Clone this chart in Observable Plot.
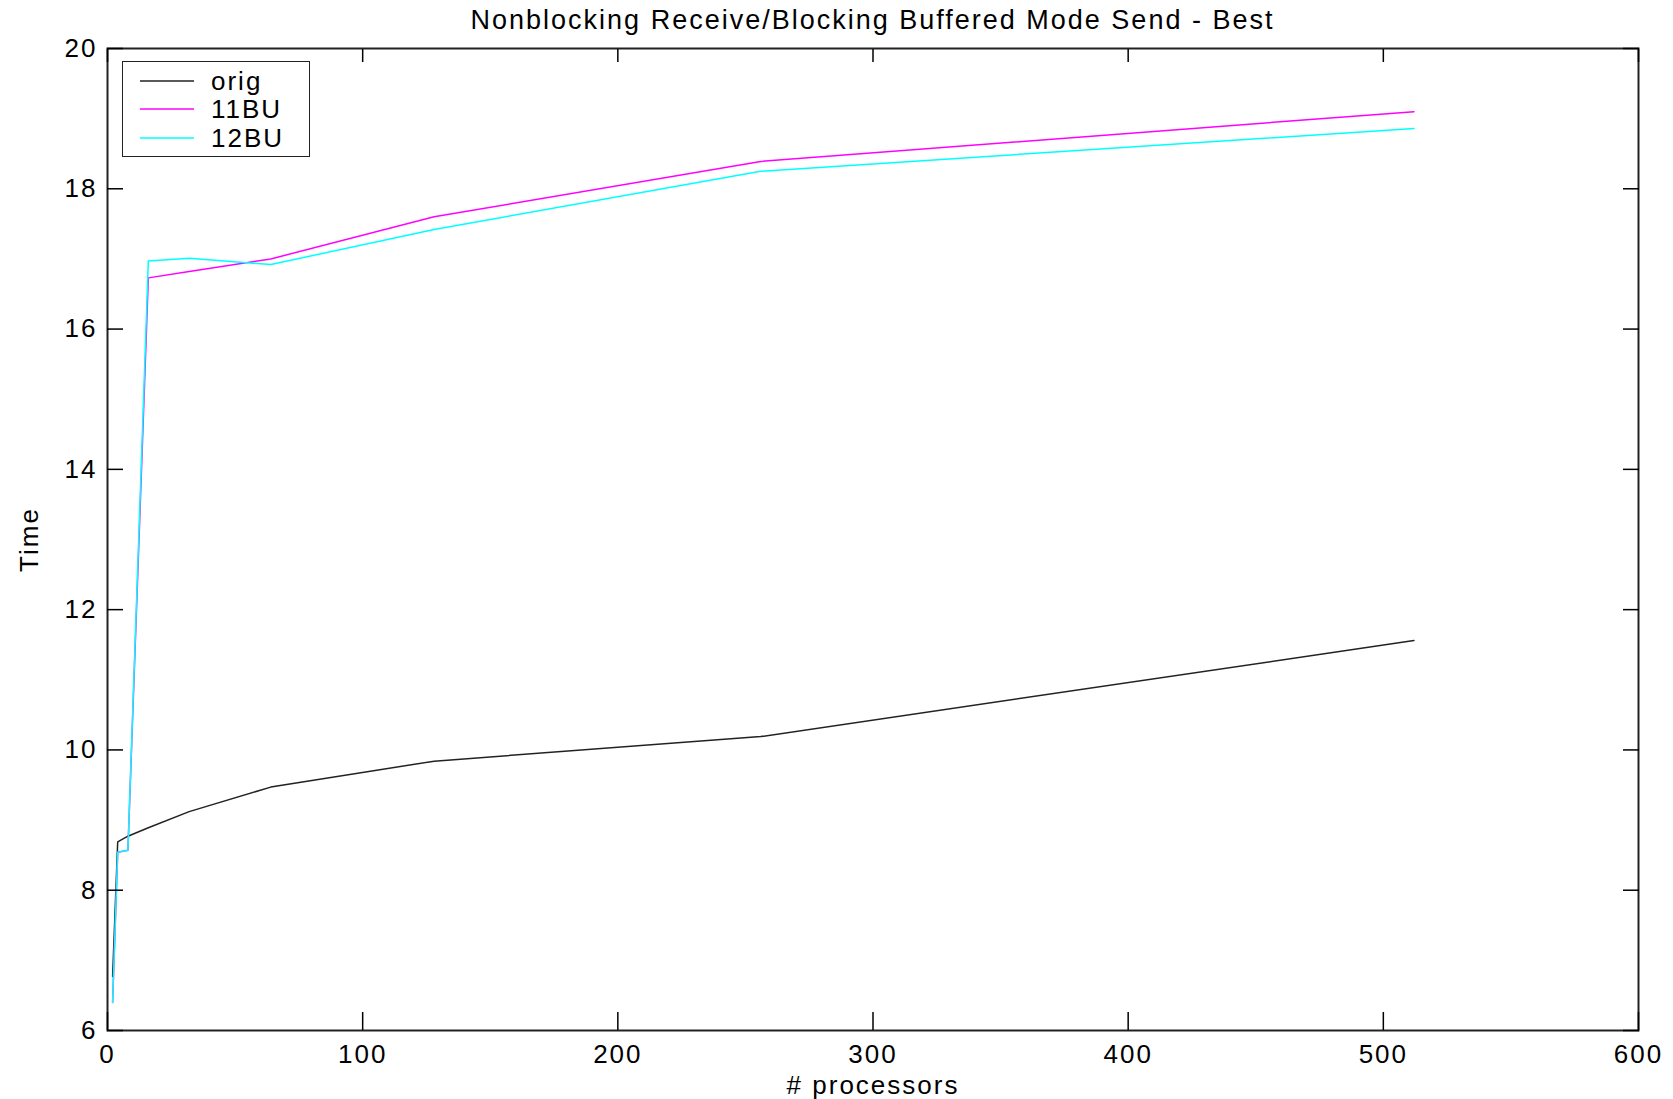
<!DOCTYPE html>
<html>
<head>
<meta charset="utf-8">
<script src="https://cdn.jsdelivr.net/npm/d3@7"></script>
<script src="https://cdn.jsdelivr.net/npm/@observablehq/plot@0.6"></script>
<style>
  body { margin: 0; background: #fff; font-family: "Liberation Sans", Arial, Helvetica, sans-serif; }
  #wrap { position: relative; width: 1673px; height: 1099px; overflow: hidden; }
  #title { position: absolute; left: 0; top: 0; width: 1531px; height: 40px; line-height: 40px; font-size: 27px;
           letter-spacing: 2px; text-align: center; padding-left: 107px; padding-right: 35px; color: #000;
           white-space: nowrap; z-index: 2; }
  #chart svg { display: block; }
  #legend { position: absolute; left: 122px; top: 61px; width: 186px; height: 94px;
            border: 1.5px solid #222; background: #fff; z-index: 2; }
  .lg-row { position: absolute; left: 0; height: 28px; width: 186px; }
  .lg-row svg { position: absolute; left: 16px; top: 0; }
  .lg-row span { position: absolute; left: 88px; top: 0; line-height: 28px; font-size: 26px; letter-spacing: 2px; color: #000; }
</style>
</head>
<body>
<div id="wrap">
  <div id="chart"></div>
  <div id="title"></div>
  <div id="legend"></div>
</div>
<script>
const title = "Nonblocking Receive/Blocking Buffered Mode Send - Best";
const xLabel = "# processors";
const yLabel = "Time";

const processors = [2, 4, 8, 16, 32, 64, 128, 256, 512];
const orig = [6.77, 8.69, 8.77, 8.89, 9.12, 9.47, 9.84, 10.19, 11.56];
const bu11 = [6.40, 8.54, 8.57, 16.73, 16.82, 17.00, 17.60, 18.39, 19.10];
const bu12 = [6.40, 8.54, 8.57, 16.97, 17.01, 16.92, 17.42, 18.25, 18.86];

const seriesNames = ["orig", "11BU", "12BU"];
const seriesColors = ["#222222", "#ff00ff", "#00ffff"];
const seriesValues = [orig, bu11, bu12];

const xTicks = [0, 100, 200, 300, 400, 500, 600];
const yTicks = [6, 8, 10, 12, 14, 16, 18, 20];

document.getElementById("title").textContent = title;

const rows = seriesNames.flatMap((name, i) =>
  processors.map((p, j) => ({series: name, p, t: seriesValues[i][j]}))
);

const chart = Plot.plot({
  width: 1673,
  height: 1099,
  marginTop: 48,
  marginLeft: 107,
  marginRight: 35,
  marginBottom: 69,
  style: {fontFamily: "'Liberation Sans', Arial, Helvetica, sans-serif", fontSize: "26px", letterSpacing: "2px", color: "#000", background: "#fff", overflow: "visible"},
  x: {domain: [0, 600], label: null},
  y: {domain: [6, 20], label: null},
  color: {domain: seriesNames, range: seriesColors},
  marks: [
    Plot.line(rows, {x: "p", y: "t", z: "series", stroke: "series", strokeWidth: 1.5}),
    Plot.frame({stroke: "#222", strokeWidth: 2}),
    Plot.axisX(xTicks, {anchor: "bottom", tickSize: -18, tickPadding: 32, tickFormat: d => String(d), strokeWidth: 1.5, label: null}),
    Plot.axisX(xTicks, {anchor: "top", tickSize: -13, tickFormat: () => "", strokeWidth: 1.5, label: null}),
    Plot.axisY(yTicks, {anchor: "left", tickSize: -16, tickPadding: 26, tickFormat: d => String(d), strokeWidth: 1.5, label: null}),
    Plot.axisY(yTicks, {anchor: "right", tickSize: -16, tickFormat: () => "", strokeWidth: 1.5, label: null}),
    Plot.text([xLabel], {frameAnchor: "bottom", dy: 55, lineAnchor: "middle", textAnchor: "middle", fontSize: 26}),
    Plot.text([yLabel], {frameAnchor: "left", dx: -78, rotate: -90, textAnchor: "middle", lineAnchor: "middle", fontSize: 26})
  ]
});
document.getElementById("chart").appendChild(chart);

// legend built from the series arrays
const legend = document.getElementById("legend");
seriesNames.forEach((name, i) => {
  const row = document.createElement("div");
  row.className = "lg-row";
  row.style.top = (5 + 28.35 * i) + "px";
  row.innerHTML = `<svg width="56" height="28"><line x1="1" x2="55" y1="14" y2="14" stroke="${seriesColors[i]}" stroke-width="1.5"/></svg><span>${name}</span>`;
  legend.appendChild(row);
});
</script>
</body>
</html>
